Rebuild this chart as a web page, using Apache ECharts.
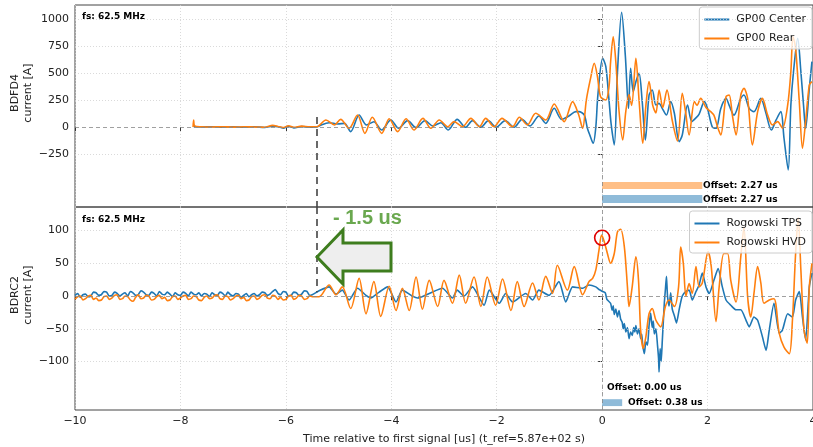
<!DOCTYPE html>
<html>
<head>
<meta charset="utf-8">
<script src="https://cdn.jsdelivr.net/npm/echarts@6/dist/echarts.min.js"></script>
<style>
html,body{margin:0;padding:0;background:#fff;}
#chart{width:813px;height:447px;}
</style>
</head>
<body>
<div id="chart"></div>
<script>
// tick values
const xTicks = [-10, -8, -6, -4, -2, 0, 2, 4];
const topYTicks = [-250, 0, 250, 500, 750, 1000];
const botYTicks = [-100, -50, 0, 50, 100];

// BDFD4, [time us, current A]
const gpCenter = [
  [-7.75,5],[-7.6,0],[-7.4,2],[-7.2,-2],[-7.0,1],[-6.8,-3],[-6.6,2],[-6.4,-4],[-6.25,8],[-6.15,2],[-6.05,-10],[-5.95,6],[-5.85,-8],[-5.7,4],[-5.55,-2],[-5.41,0],
  [-5.37,10],[-5.18,40],[-5.02,28],[-4.89,34],[-4.77,-43],[-4.61,111],[-4.47,19],[-4.33,49],[-4.18,-28],[-4.01,65],[-3.86,-12],[-3.69,59],[-3.53,-6],[-3.36,59],
  [-3.21,9],[-3.06,40],[-2.92,-28],[-2.75,71],[-2.59,-3],[-2.46,59],[-2.30,-3],[-2.16,59],[-2.01,-3],[-1.84,59],[-1.67,-3],[-1.52,71],[-1.37,9],[-1.20,102],
  [-1.07,34],[-0.91,173],[-0.77,71],[-0.63,102],[-0.50,142],[-0.44,142],[-0.34,112],[-0.28,-12],[-0.23,-80],[-0.17,-151],[-0.12,0],[-0.08,300],[0.01,636],
  [0.07,560],[0.13,250],[0.17,30],[0.23,-167],[0.29,500],[0.37,1062],[0.44,660],[0.50,173],[0.54,543],[0.59,327],[0.64,420],[0.70,497],[0.76,235],[0.82,-120],
  [0.89,296],[0.95,343],[1.02,204],[1.08,219],[1.14,173],[1.22,111],[1.30,235],[1.37,127],[1.46,-136],[1.52,-74],[1.62,204],[1.70,50],[1.77,80],[1.84,120],
  [1.94,235],[2.00,170],[2.09,0],[2.16,-12],[2.25,170],[2.35,265],[2.41,200],[2.50,110],[2.63,265],[2.69,296],[2.79,173],[2.88,142],[3.01,265],[3.10,142],
  [3.21,-28],[3.30,65],[3.39,142],[3.45,-104],[3.53,-398],[3.58,204],[3.63,512],[3.71,821],[3.77,512],[3.82,204],[3.86,-12],[3.93,358],[3.98,605]
];
const gpRear = [
  [-7.76,0],[-7.75,65],[-7.73,10],[-7.6,2],[-7.4,0],[-7.2,3],[-7.0,-1],[-6.8,2],[-6.6,0],[-6.4,-2],[-6.25,15],[-6.15,5],[-6.05,-5],[-5.95,12],[-5.85,-3],[-5.7,8],[-5.55,2],[-5.41,3],
  [-5.24,65],[-5.08,19],[-4.96,71],[-4.80,-12],[-4.64,111],[-4.50,-59],[-4.36,90],[-4.18,-59],[-4.04,77],[-3.88,-43],[-3.72,77],[-3.57,-28],[-3.40,80],[-3.25,-12],
  [-3.09,65],[-2.93,3],[-2.81,50],[-2.65,3],[-2.49,80],[-2.33,3],[-2.21,80],[-2.05,3],[-1.90,80],[-1.70,3],[-1.57,90],[-1.42,19],[-1.26,127],[-1.07,65],
  [-0.91,213],[-0.72,50],[-0.56,235],[-0.45,120],[-0.37,-12],[-0.30,250],[-0.22,450],[-0.15,590],[-0.09,470],[-0.03,281],[0.07,250],[0.13,373],[0.16,600],
  [0.21,836],[0.26,600],[0.32,150],[0.39,-120],[0.45,150],[0.51,300],[0.56,200],[0.64,636],[0.70,250],[0.77,-151],[0.83,200],[0.89,420],[0.96,200],[1.02,130],
  [1.08,343],[1.15,180],[1.23,343],[1.33,60],[1.43,-130],[1.52,312],[1.58,150],[1.65,-74],[1.75,235],[1.80,200],[1.87,265],[1.97,180],[2.06,142],[2.12,110],
  [2.19,0],[2.25,-74],[2.35,281],[2.41,296],[2.47,110],[2.54,-74],[2.63,296],[2.69,358],[2.76,265],[2.85,-166],[2.95,142],[3.04,265],[3.14,110],[3.23,19],
  [3.33,50],[3.42,-12],[3.52,204],[3.58,512],[3.62,836],[3.67,730],[3.74,235],[3.80,-197],[3.86,50],[3.93,389],[3.98,420]
];

// BDRC2, [time us, current A]
const rogTps = [
  [-10.0,1],[-9.95,4],[-9.9,-2],[-9.85,2],[-9.8,3],[-9.75,-1],[-9.7,0],[-9.65,6],[-9.6,5],[-9.55,1],[-9.5,2],[-9.45,7],[-9.4,6],[-9.35,0],[-9.3,1],[-9.25,6],
  [-9.2,4],[-9.15,0],[-9.1,3],[-9.05,5],[-9.0,0],[-8.95,7],[-8.9,5],[-8.85,1],[-8.8,2],[-8.75,8],[-8.7,6],[-8.65,2],[-8.6,1],[-8.55,6],[-8.5,4],[-8.45,0],
  [-8.4,7],[-8.35,3],[-8.3,2],[-8.25,6],[-8.2,3],[-8.15,-1],[-8.1,5],[-8.05,2],[-8.0,1],[-7.95,6],[-7.9,4],[-7.85,0],[-7.8,6],[-7.75,3],[-7.7,2],[-7.65,5],
  [-7.6,0],[-7.55,4],[-7.5,3],[-7.45,-1],[-7.4,5],[-7.35,2],[-7.3,1],[-7.25,6],[-7.2,4],[-7.15,0],[-7.1,6],[-7.05,2],[-7.0,0],[-6.95,4],[-6.9,3],[-6.85,-2],
  [-6.8,1],[-6.75,4],[-6.7,-1],[-6.65,2],[-6.6,4],[-6.55,0],[-6.5,2],[-6.45,6],[-6.4,5],[-6.35,1],[-6.3,3],[-6.25,7],[-6.2,10],[-6.15,4],[-6.1,2],[-6.05,7],
  [-6.0,6],[-5.95,0],[-5.9,1],[-5.85,6],[-5.8,5],[-5.75,1],[-5.7,3],[-5.65,8],[-5.6,7],[-5.55,1],[-5.5,2],
  [-5.37,8],[-5.18,14],[-5.05,3],[-4.93,9],[-4.80,-6],[-4.64,12],[-4.48,1],[-4.39,-3],[-4.23,6],[-4.07,14],[-3.91,-9],[-3.79,9],[-3.60,0],[-3.50,-3],
  [-3.28,4],[-3.03,12],[-2.84,-3],[-2.75,9],[-2.62,0],[-2.46,14],[-2.24,-14],[-2.14,9],[-1.95,-11],[-1.83,4],[-1.70,-9],[-1.45,4],[-1.32,-6],[-1.20,9],
  [-1.01,1],[-0.82,22],[-0.69,-9],[-0.56,14],[-0.37,12],[-0.25,17],[-0.12,14],[-0.06,10],[0.01,7],[0.06,5],[0.09,-5],[0.16,-11],[0.19,-22],[0.21,-15],
  [0.23,-28],[0.26,-20],[0.29,-32],[0.32,-22],[0.35,-35],[0.38,-40],[0.40,-50],[0.42,-42],[0.45,-55],[0.48,-48],[0.51,-65],[0.54,-55],[0.57,-60],[0.60,-48],
  [0.62,-55],[0.64,-45],[0.67,-58],[0.70,-50],[0.73,-65],[0.75,-58],[0.77,-75],[0.80,-88],[0.83,-70],[0.86,-75],[0.89,-45],[0.92,-26],[0.95,-48],[0.97,-38],
  [0.99,-58],[1.02,-50],[1.05,-75],[1.07,-95],[1.08,-116],[1.10,-80],[1.12,-100],[1.14,-70],[1.16,-40],[1.18,-10],[1.20,10],[1.22,30],[1.24,0],[1.27,-15],
  [1.30,5],[1.33,-20],[1.37,-30],[1.41,-41],[1.46,-21],[1.52,0],[1.59,7],[1.65,9],[1.71,-6],[1.78,7],[1.84,17],[1.90,35],[1.97,14],[2.03,4],[2.12,24],
  [2.20,42],[2.28,14],[2.35,-6],[2.44,-14],[2.54,-21],[2.63,-21],[2.73,-37],[2.79,-47],[2.88,-32],[2.95,-37],[3.04,-62],[3.11,-83],[3.17,-52],[3.26,-11],
  [3.36,-57],[3.42,-52],[3.52,-27],[3.61,-32],[3.67,-6],[3.74,7],[3.80,-32],[3.86,-67],[3.93,14],[3.98,35]
];
const rogHvd = [
  [-10.0,-5],[-9.95,-1],[-9.9,0],[-9.85,-6],[-9.8,-4],[-9.75,0],[-9.7,1],[-9.65,-5],[-9.6,-3],[-9.55,-7],[-9.5,-6],[-9.45,-1],[-9.4,0],[-9.35,-5],[-9.3,-3],
  [-9.25,1],[-9.2,2],[-9.15,-5],[-9.1,-4],[-9.05,0],[-9.0,-1],[-8.95,-6],[-8.9,-8],[-8.85,-2],[-8.8,2],[-8.75,-4],[-8.7,-3],[-8.65,1],[-8.6,0],[-8.55,-6],
  [-8.5,-5],[-8.45,-1],[-8.4,1],[-8.35,-4],[-8.3,-2],[-8.25,-7],[-8.2,-6],[-8.15,-1],[-8.1,0],[-8.05,-5],[-8.0,-3],[-7.95,0],[-7.9,1],[-7.85,-5],[-7.8,-4],
  [-7.75,0],[-7.7,-1],[-7.65,-6],[-7.6,-7],[-7.55,-2],[-7.5,0],[-7.45,-4],[-7.4,-3],[-7.35,1],[-7.3,2],[-7.25,-4],[-7.2,-5],[-7.15,0],[-7.1,-1],[-7.05,-6],
  [-7.0,-4],[-6.95,0],[-6.9,1],[-6.85,-4],[-6.8,-2],[-6.75,-7],[-6.7,-6],[-6.65,-1],[-6.6,0],[-6.55,-5],[-6.5,-3],[-6.45,1],[-6.4,2],[-6.35,-3],[-6.3,-4],
  [-6.25,1],[-6.2,0],[-6.15,-5],[-6.1,-2],[-6.05,-6],[-6.0,-5],[-5.95,0],[-5.9,1],[-5.85,-5],[-5.8,-3],[-5.75,1],[-5.7,0],[-5.65,-5],[-5.6,-4],[-5.55,0],[-5.5,-1],
  [-5.37,-1],[-5.18,17],[-5.05,2],[-4.93,14],[-4.77,-19],[-4.61,27],[-4.48,-27],[-4.33,22],[-4.20,-31],[-4.04,15],[-3.91,-22],[-3.79,12],[-3.66,-22],[-3.53,29],
  [-3.41,-20],[-3.28,24],[-3.12,-16],[-3.00,24],[-2.84,-11],[-2.71,32],[-2.59,-11],[-2.43,29],[-2.30,-16],[-2.18,29],[-2.02,-14],[-1.89,26],[-1.73,-22],[-1.61,22],
  [-1.48,-16],[-1.32,20],[-1.20,-6],[-1.07,30],[-0.94,4],[-0.85,47],[-0.66,9],[-0.53,45],[-0.37,2],[-0.25,22],[-0.18,27],[-0.12,40],[-0.06,70],[-0.01,93],
  [0.04,83],[0.10,65],[0.16,50],[0.23,65],[0.29,98],[0.35,102],[0.42,76],[0.48,14],[0.51,-16],[0.57,14],[0.64,60],[0.69,24],[0.73,-52],[0.78,-80],[0.83,-62],
  [0.89,-27],[0.95,-19],[1.02,-37],[1.11,-47],[1.20,-16],[1.27,-6],[1.37,-16],[1.45,14],[1.49,75],[1.54,50],[1.59,0],[1.65,19],[1.71,4],[1.78,45],[1.84,14],
  [1.90,20],[2.01,68],[2.07,45],[2.16,-39],[2.22,14],[2.31,65],[2.38,65],[2.44,24],[2.54,-9],[2.63,60],[2.69,105],[2.76,-1],[2.82,-32],[2.88,4],[2.95,45],
  [3.01,20],[3.07,-11],[3.17,-6],[3.26,-4],[3.36,-57],[3.45,-78],[3.55,-88],[3.61,-37],[3.67,65],[3.72,120],[3.77,40],[3.83,-52],[3.89,-72],[3.93,14],[3.98,50]
];

const BLUE = '#1f77b4', ORANGE = '#ff7f0e';
const FONT = 'DejaVu Sans';
const minusFmt = v => String(v).replace('-', '\u2212');

const gridLine = v => ({ yAxis: v, lineStyle: { color: '#d0d0d0', type: [1, 2], width: 0.8 } });
const zeroLines = [
  { yAxis: 0, lineStyle: { color: '#888', type: [4, 3], width: 0.8 } },
  { xAxis: 0, lineStyle: { color: '#888', type: [4, 3], width: 0.8 } }
];
const cursor = (y0, y1) => [
  { coord: [-5.41, y0], lineStyle: { color: '#444', type: [7, 5], width: 1.6 } },
  { coord: [-5.41, y1] }
];
const mk = data => ({ silent: true, symbol: ['none', 'none'], label: { show: false }, data: data, animation: false });

const chart = echarts.init(document.getElementById('chart'));

function xAx(idx, showLabel) {
  return {
    type: 'value', gridIndex: idx, min: -10, max: 4, interval: 2,
    axisLine: { show: false },
    axisTick: { show: true, length: 4, lineStyle: { color: '#333' } },
    axisLabel: { show: showLabel, formatter: minusFmt, fontFamily: FONT, fontSize: 11, color: '#222', margin: 6 },
    splitLine: { show: true, lineStyle: { color: '#d0d0d0', type: [1, 2], width: 0.8 } },
    name: showLabel ? 'Time relative to first signal [us] (t_ref=5.87e+02 s)' : '',
    nameLocation: 'middle', nameGap: 24,
    nameTextStyle: { fontFamily: FONT, fontSize: 11, color: '#222' }
  };
}
function yAx(idx, min, max, ticks) {
  return {
    type: 'value', gridIndex: idx, min: min, max: max,
    axisLine: { show: false },
    axisTick: { show: true, length: 4, customValues: ticks, lineStyle: { color: '#333' } },
    axisLabel: { customValues: ticks, formatter: minusFmt, fontFamily: FONT, fontSize: 11, color: '#222', margin: 6 },
    splitLine: { show: false }
  };
}
const legItem = (name, color) => ({
  name: name, icon: 'path://M0,0L25,0L25,2L0,2Z',
  itemStyle: { color: color, borderWidth: 0, opacity: 1 }
});
function legend(items, top) {
  return {
    data: items, orient: 'vertical', right: 1, top: top,
    itemWidth: 25, itemHeight: 2, itemGap: 8, padding: [7, 6, 5, 5],
    backgroundColor: 'rgba(255,255,255,0.8)', borderColor: '#ccc', borderWidth: 1, borderRadius: 3,
    textStyle: { fontFamily: FONT, fontSize: 11, color: '#222', padding: [0, 0, 0, 2] }
  };
}

const option = {
  animation: false,
  backgroundColor: '#fff',
  grid: [
    { left: 75, top: 5, width: 738, height: 202, show: true, borderColor: '#444', borderWidth: 1,
      backgroundColor: 'transparent', containLabel: false, outerBoundsMode: 'none' },
    { left: 75, top: 207, width: 738, height: 203, show: true, borderColor: '#444', borderWidth: 1,
      backgroundColor: 'transparent', containLabel: false, outerBoundsMode: 'none' }
  ],
  xAxis: [xAx(0, false), xAx(1, true)],
  yAxis: [yAx(0, -741, 1130, topYTicks), yAx(1, -174, 136, botYTicks)],
  legend: [
    legend([legItem('GP00 Center', BLUE), legItem('GP00 Rear', ORANGE)], 7),
    legend([legItem('Rogowski TPS', BLUE), legItem('Rogowski HVD', ORANGE)], 211)
  ],
  series: [
    {
      name: 'GP00 Center', type: 'line', xAxisIndex: 0, yAxisIndex: 0, data: gpCenter, symbol: 'none', z: 2, smooth: 0.3,
      lineStyle: { width: 1.6, color: BLUE }, itemStyle: { color: BLUE },
      markLine: mk(topYTicks.filter(v => v !== 0).map(gridLine).concat(zeroLines, [cursor(93, -741)])),
      markArea: { silent: true, itemStyle: { color: 'rgba(31,119,180,0.5)' }, data: [[{ coord: [0, -630] }, { coord: [1.9, -704] }]] }
    },
    {
      name: 'GP00 Rear', type: 'line', xAxisIndex: 0, yAxisIndex: 0, data: gpRear, symbol: 'none', z: 3, smooth: 0.3,
      lineStyle: { width: 1.6, color: ORANGE }, itemStyle: { color: ORANGE },
      markArea: { silent: true, itemStyle: { color: 'rgba(255,127,14,0.5)' }, data: [[{ coord: [0, -509] }, { coord: [1.9, -574] }]] }
    },
    {
      name: 'Rogowski TPS', type: 'line', xAxisIndex: 1, yAxisIndex: 1, data: rogTps, symbol: 'none', z: 2, smooth: 0.2,
      lineStyle: { width: 1.6, color: BLUE }, itemStyle: { color: BLUE },
      markLine: mk(botYTicks.filter(v => v !== 0).map(gridLine).concat(zeroLines, [cursor(136, 6)])),
      markArea: { silent: true, itemStyle: { color: 'rgba(31,119,180,0.5)' }, data: [[{ coord: [0, -157.5] }, { coord: [0.38, -168] }]] }
    },
    {
      name: 'Rogowski HVD', type: 'line', xAxisIndex: 1, yAxisIndex: 1, data: rogHvd, symbol: 'none', z: 3, smooth: 0.3,
      lineStyle: { width: 1.6, color: ORANGE }, itemStyle: { color: ORANGE },
      markPoint: {
        silent: true, symbol: 'circle', symbolSize: 15, label: { show: false },
        itemStyle: { color: 'rgba(0,0,0,0)', borderColor: '#e00000', borderWidth: 1.6 },
        data: [{ coord: [0, 89] }]
      }
    }
  ],
  graphic: [
    { type: 'text', left: 82, top: 12, style: { text: 'fs: 62.5 MHz', font: 'bold 9px "DejaVu Sans"', fill: '#000' } },
    { type: 'text', left: 82, top: 215, style: { text: 'fs: 62.5 MHz', font: 'bold 9px "DejaVu Sans"', fill: '#000' } },
    { type: 'text', x: 22, y: 93, rotation: Math.PI / 2,
      style: { text: 'BDFD4\ncurrent [A]', font: '11px "DejaVu Sans"', fill: '#222', align: 'center', verticalAlign: 'middle', lineHeight: 13 } },
    { type: 'text', x: 22, y: 295, rotation: Math.PI / 2,
      style: { text: 'BDRC2\ncurrent [A]', font: '11px "DejaVu Sans"', fill: '#222', align: 'center', verticalAlign: 'middle', lineHeight: 13 } },
    { type: 'text', x: 703, y: 186, style: { text: 'Offset: 2.27 us', font: 'bold 9px "DejaVu Sans"', fill: '#000', verticalAlign: 'middle' } },
    { type: 'text', x: 703, y: 199.5, style: { text: 'Offset: 2.27 us', font: 'bold 9px "DejaVu Sans"', fill: '#000', verticalAlign: 'middle' } },
    { type: 'text', x: 607, y: 388, style: { text: 'Offset: 0.00 us', font: 'bold 9px "DejaVu Sans"', fill: '#000', verticalAlign: 'middle' } },
    { type: 'text', x: 628, y: 402.5, style: { text: 'Offset: 0.38 us', font: 'bold 9px "DejaVu Sans"', fill: '#000', verticalAlign: 'middle' } },
    { type: 'polygon', z: 100,
      shape: { points: [[317, 257], [343, 230], [343, 243], [391, 243], [391, 271], [343, 271], [343, 284]] },
      style: { fill: '#eeeeee', stroke: '#3e7d1e', lineWidth: 3, lineJoin: 'miter' } },
    { type: 'text', z: 100, x: 333, y: 218,
      style: { text: '- 1.5 us', font: 'bold 20px "Liberation Sans"', fill: '#6aa84f', verticalAlign: 'middle' } }
  ]
};
chart.setOption(option);
</script>
</body>
</html>
